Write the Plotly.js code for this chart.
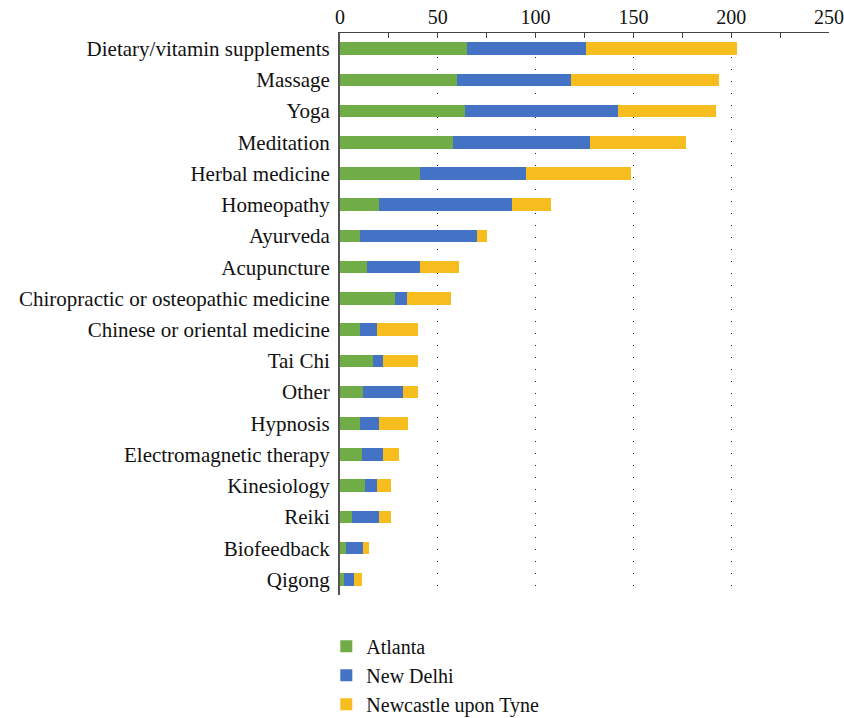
<!DOCTYPE html>
<html>
<head>
<meta charset="utf-8">
<script src="https://cdn.plot.ly/plotly-3.0.1.min.js"></script>
<style>html,body{margin:0;padding:0;background:#fff;}#chart{width:844px;height:718px;}</style>
</head>
<body>
<div id="chart"></div>
<script>
const categories = ["Dietary/vitamin supplements","Massage","Yoga","Meditation","Herbal medicine","Homeopathy","Ayurveda","Acupuncture","Chiropractic or osteopathic medicine","Chinese or oriental medicine","Tai Chi","Other","Hypnosis","Electromagnetic therapy","Kinesiology","Reiki","Biofeedback","Qigong"];
const atlanta = [65,60,64,58,41,20,10,14,28,10,17,12,10,11,13,6,3,2];
const newDelhi = [61,58,78,70,54,68,60,27,6,9,5,20,10,11,6,14,9,5];
const newcastle = [77,76,50,49,54,20,5,20,23,21,18,8,15,8,7,6,3,4];
const seriesNames = ["Atlanta","New Delhi","Newcastle upon Tyne"];
const tickVals = [0,50,100,150,200,250];

const font = "Liberation Serif, Times New Roman, serif";
const colors = ["#70AD47","#4472C4","#F7BD1E"];
const data = [atlanta,newDelhi,newcastle].map((vals,i)=>({
  type:'bar', orientation:'h', name:seriesNames[i], x:vals, y:categories,
  marker:{color:colors[i], line:{width:0}}
}));
const layout = {
  width:844, height:718,
  margin:{l:340,r:15,t:33,b:123, autoexpand:false},
  barmode:'stack', bargap:0.6,
  paper_bgcolor:'#fff', plot_bgcolor:'#fff',
  font:{family:font, size:21, color:'#111'},
  showlegend:true,
  legend:{orientation:'v', x:-0.028, xanchor:'left', yref:'container', y:0.127, yanchor:'top', font:{family:font,size:20,color:'#111'}, tracegroupgap:0, traceorder:'normal'},
  xaxis:{side:'top', range:[0,250], tickvals:tickVals, showline:true, linecolor:'#444', linewidth:1,
    ticks:'inside', ticklen:5, tickcolor:'#444', showgrid:true, gridcolor:'#222', griddash:'1px,11px', gridwidth:1,
    minor:{dtick:25, tick0:0, ticks:'inside', ticklen:5, tickcolor:'#444', showgrid:false},
    zeroline:false, tickfont:{family:font,size:20,color:'#111'}, fixedrange:true},
  yaxis:{autorange:'reversed', type:'category', showline:true, linecolor:'#555', linewidth:2, ticks:'', showgrid:false,
    tickfont:{family:font,size:21,color:'#111'}, ticklabelstandoff:4},
};
Plotly.newPlot('chart', data, layout, {displayModeBar:false, staticPlot:true});
</script>
</body>
</html>
